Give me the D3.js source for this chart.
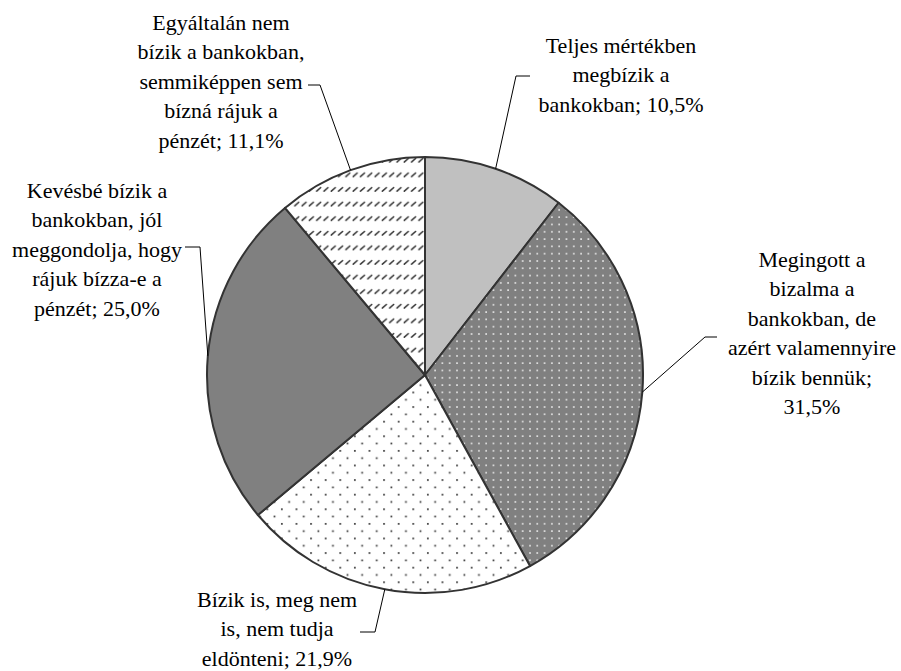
<!DOCTYPE html>
<html>
<head>
<meta charset="utf-8">
<script src="https://cdn.jsdelivr.net/npm/d3@7"></script>
<style>
  html, body { margin: 0; padding: 0; background: #fff; }
  #wrap { position: relative; width: 901px; height: 671px; overflow: hidden; }
  #wrap svg { position: absolute; left: 0; top: 0; display: block; }
  .lbl { position: absolute; transform: translateX(-50%); text-align: center; white-space: nowrap;
         font-family: "Liberation Serif", Tinos, "Times New Roman", serif; font-size: 22px; line-height: 29.5px; color: #000; }
  .lbl div { white-space: nowrap; }
</style>
</head>
<body>
<div id="wrap"><svg id="chart" width="901" height="671"></svg></div>
<script>
// ---- data ----
const categories = [
  "Teljes mértékben megbízik a bankokban",
  "Megingott a bizalma a bankokban, de azért valamennyire bízik bennük",
  "Bízik is, meg nem is, nem tudja eldönteni",
  "Kevésbé bízik a bankokban, jól meggondolja, hogy rájuk bízza-e a pénzét",
  "Egyáltalán nem bízik a bankokban, semmiképpen sem bízná rájuk a pénzét"
];
const values = [10.5, 31.5, 21.9, 25.0, 11.1];

// ---- layout / style ----
const wordsPerLine = [[2,2,2],[2,2,2,2,2,1],[4,3,2],[3,2,2,3,2],[2,3,2,3,2]];
const labelAnchor = [[621,53],[812,267],[277,607],[97,198],[221,30]]; // center x, first baseline
const elbow = [[516,76],[705,337],[375,632],[200,247],[320,85]];
const tail  = [[530,76],[717,337],[360,632],[185,247],[308,85]];
const fills = ["#c0c0c0","url(#dotsWhite)","url(#dotsDark)","#808080","url(#dashDiag)"];
const baselineOffset = 22.2;

const svg = d3.select("#chart");
const defs = svg.append("defs");

const p1 = defs.append("pattern").attr("id","dotsWhite").attr("patternUnits","userSpaceOnUse")
  .attr("width",7.3).attr("height",7.3);
p1.append("rect").attr("width",7.3).attr("height",7.3).attr("fill","#808080");
p1.append("rect").attr("x",2).attr("y",2).attr("width",1.6).attr("height",1.6).attr("fill","#ececec");

const p2 = defs.append("pattern").attr("id","dotsDark").attr("patternUnits","userSpaceOnUse")
  .attr("width",14.6).attr("height",14.6);
p2.append("rect").attr("width",14.6).attr("height",14.6).attr("fill","#fff");
p2.append("rect").attr("x",2).attr("y",2).attr("width",1.7).attr("height",1.7).attr("fill","#333");
p2.append("rect").attr("x",9.3).attr("y",9.3).attr("width",1.7).attr("height",1.7).attr("fill","#333");

const p3 = defs.append("pattern").attr("id","dashDiag").attr("patternUnits","userSpaceOnUse")
  .attr("width",7.3).attr("height",14.6);
p3.append("rect").attr("width",7.3).attr("height",14.6).attr("fill","#fff");
p3.append("line").attr("x1",1.2).attr("y1",6).attr("x2",5.2).attr("y2",2.4)
  .attr("stroke","#333").attr("stroke-width",1.5).attr("stroke-linecap","round");

const cx = 425, cy = 375, R = 218;
const g = svg.append("g").attr("transform",`translate(${cx},${cy})`);

const pie = d3.pie().sort(null).value(d => d);
const arcs = pie(values);
const arc = d3.arc().innerRadius(0).outerRadius(R);

g.selectAll("path.slice").data(arcs).join("path")
  .attr("class","slice")
  .attr("d", arc)
  .attr("fill", (d,i) => fills[i])
  .attr("stroke","#333")
  .attr("stroke-width",2)
  .attr("stroke-linejoin","round");

arcs.forEach((d,i) => {
  const a = (d.startAngle + d.endAngle)/2;
  const sx = cx + R*Math.sin(a), sy = cy - R*Math.cos(a);
  svg.append("polyline")
    .attr("points", [[sx,sy], elbow[i], tail[i]].map(p => p.join(",")).join(" "))
    .attr("fill","none").attr("stroke","#000").attr("stroke-width",1);
});

// labels as HTML text
const fmt = v => d3.format(".1f")(v).replace(".", ",") + "%";
const wrap = d3.select("#wrap");
categories.forEach((c,i) => {
  const words = (c + "; " + fmt(values[i])).split(" ");
  const box = wrap.append("div").attr("class","lbl")
    .style("left", labelAnchor[i][0] + "px")
    .style("top", (labelAnchor[i][1] - baselineOffset) + "px");
  let k = 0;
  wordsPerLine[i].forEach(n => {
    box.append("div").text(words.slice(k,k+n).join(" "));
    k += n;
  });
});
</script>
</body>
</html>
